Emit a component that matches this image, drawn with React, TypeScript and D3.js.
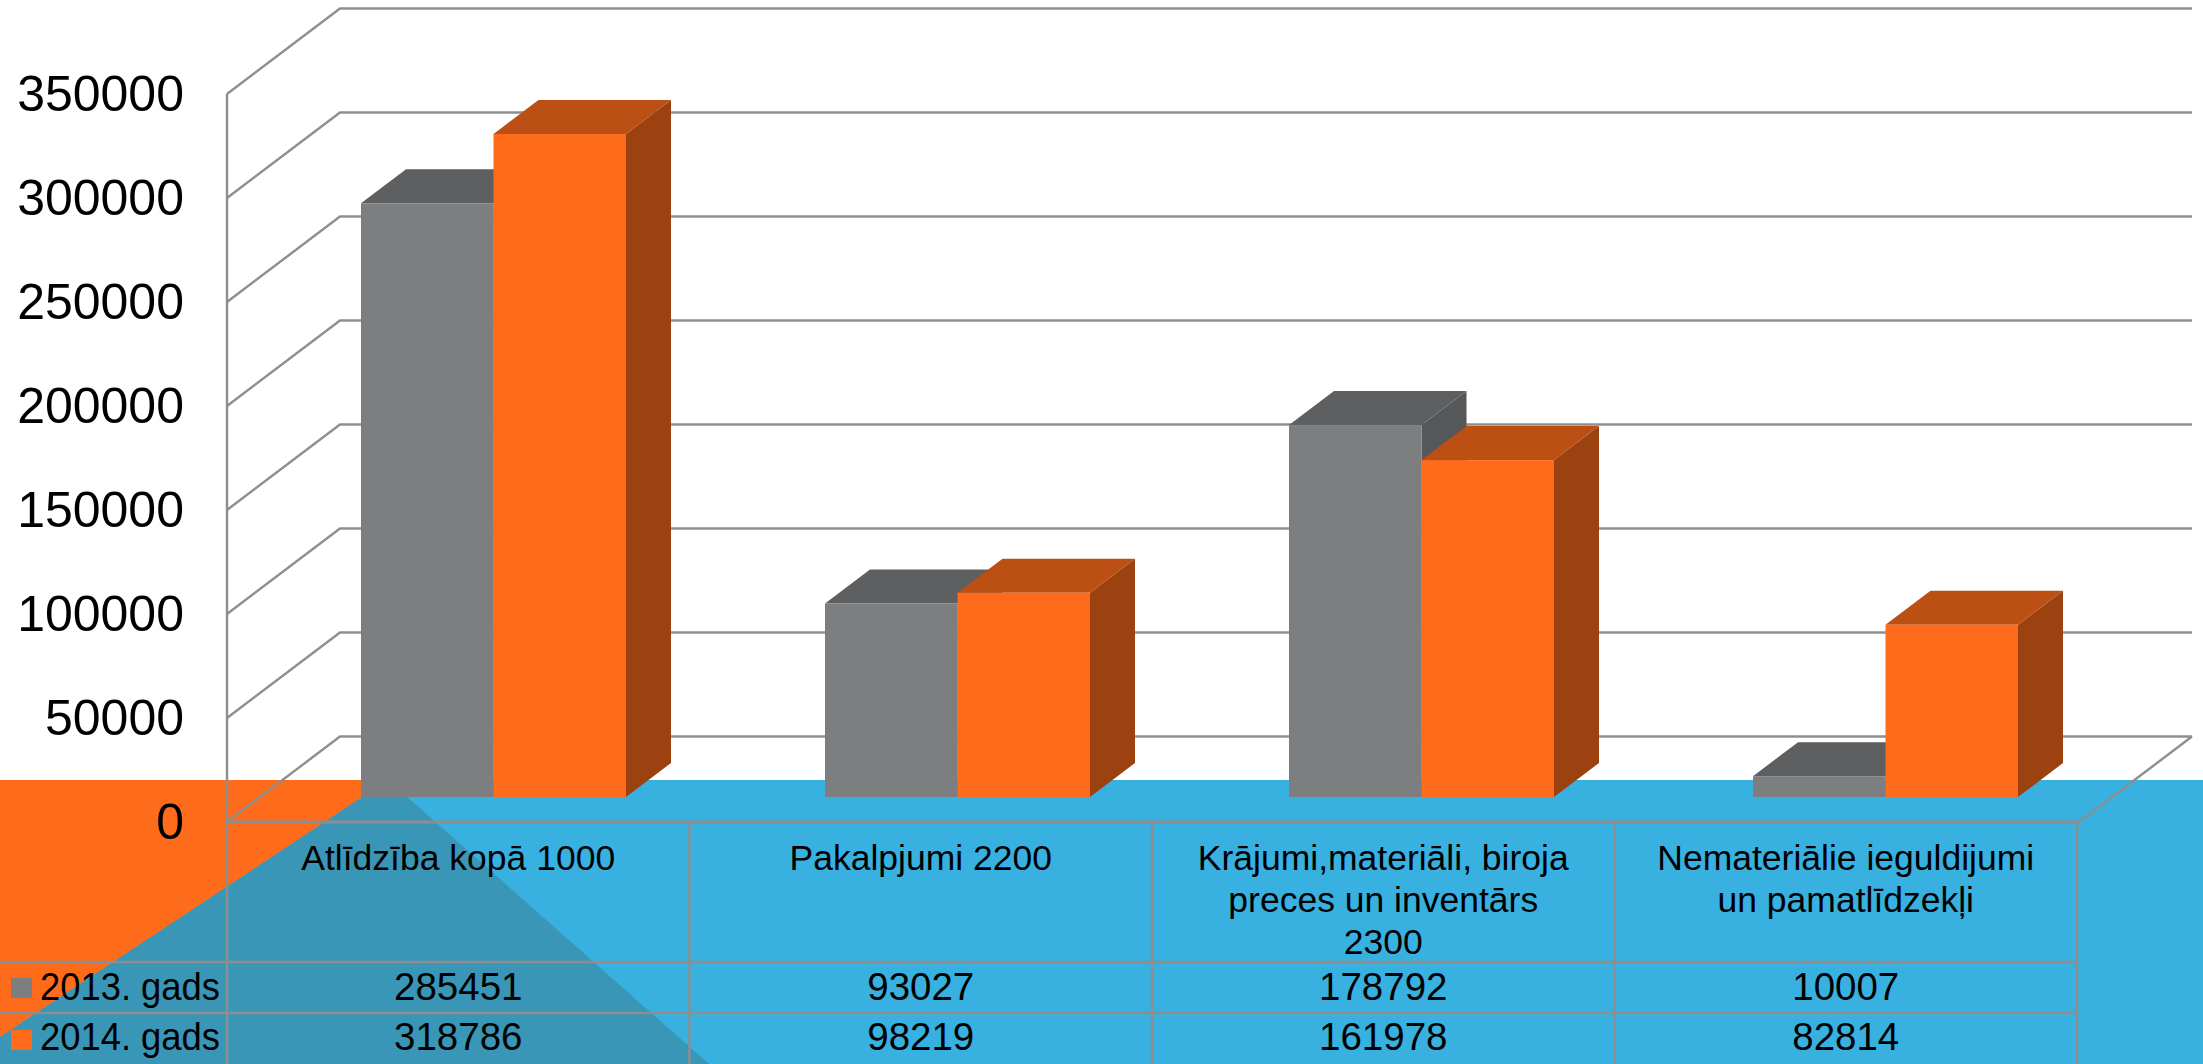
import React from "react";
import * as d3 from "d3";

const categories = [
  ["Atlīdzība kopā 1000"],
  ["Pakalpjumi 2200"],
  ["Krājumi,materiāli, biroja", "preces un inventārs", "2300"],
  ["Nemateriālie ieguldijumi", "un pamatlīdzekļi"],
];
const series2013 = [285451, 93027, 178792, 10007];
const series2014 = [318786, 98219, 161978, 82814];
const seriesNames = ["2013. gads", "2014. gads"];
const yTicks = [0, 50000, 100000, 150000, 200000, 250000, 300000, 350000];

const W = 2203, H = 1064;
const FONT = "'Liberation Sans', Arial, sans-serif";
const GRID = "#8e8e8e";
const BLUE = "#38b1e0", DARKBLUE = "#3a96b6", ORANGE = "#fd6b1b";
const colors = [
  { front: "#7d7e80", top: "#5e5f61", side: "#565759" },
  { front: "#fd6b1b", top: "#bb4f14", side: "#9c4210" },
];

const y = d3.scaleLinear().domain([0, 350000]).range([822, 94]);
const x = d3.scaleBand<number>().domain(d3.range(categories.length)).range([227, 2077]);
const barX = d3.scaleBand<number>().domain(d3.range(categories.length)).range([361, 361 + 4 * 464]);
const WALL = { dx: 113, dy: -85.5 };
const BAR = { dx: 45, dy: -34 };
const barBase = 797;
const barW = 132.5;
const rows = [962, 1013];
const pts = (p: number[][]) => d3.line()(p as [number, number][]) + "Z";

function Bar({ i, s, v }: { i: number; s: number; v: number }) {
  const x0 = barX(i)! + s * barW;
  const x1 = x0 + barW;
  const top = barBase - (y(0) - y(v));
  const c = colors[s];
  return (
    <g>
      <path d={pts([[x1, barBase], [x1 + BAR.dx, barBase + BAR.dy], [x1 + BAR.dx, top + BAR.dy], [x1, top]])} fill={c.side} />
      <path d={pts([[x0, top], [x0 + BAR.dx, top + BAR.dy], [x1 + BAR.dx, top + BAR.dy], [x1, top]])} fill={c.top} />
      <rect x={x0} y={top} width={barW} height={barBase - top} fill={c.front} />
    </g>
  );
}

export default function App() {
  const right = 2079;
  const tableRight = x.range()[1];
  return (
    <svg width={W} height={H} viewBox={`0 0 ${W} ${H}`} style={{ position: "absolute", left: 0, top: 0, display: "block", background: "#fff" }} fontFamily={FONT}>
      <rect x={0} y={780} width={W} height={H - 780} fill={BLUE} />
      <path d={pts([[0, 780], [388, 780], [0, 1037]])} fill={ORANGE} />
      <path d={pts([[388, 780], [709, 1064], [0, 1064], [0, 1037]])} fill={DARKBLUE} />

      {yTicks.map((t) => (
        <path key={t} d={`M${227},${y(t)}L${227 + WALL.dx},${y(t) + WALL.dy}L${2192},${y(t) + WALL.dy}`} stroke={GRID} strokeWidth={2.4} fill="none" />
      ))}
      <path d={`M${right},822L${2192},${822 + WALL.dy}`} stroke={GRID} strokeWidth={2.4} fill="none" />

      {categories.map((_, i) => (
        <g key={i}>
          <Bar i={i} s={0} v={series2013[i]} />
          <Bar i={i} s={1} v={series2014[i]} />
        </g>
      ))}

      <g stroke={GRID} fill="none">
        <path d={`M227,${y(350000)}V${H}`} strokeWidth={2.4} />
        <path d={`M227,822H${right}`} strokeWidth={3} />
        {x.domain().map((i) => (
          <path key={i} d={`M${x(i)! + x.step()},822V${H}`} strokeWidth={2.4} />
        ))}
        {rows.map((r) => (
          <path key={r} d={`M0,${r}H${tableRight}`} strokeWidth={2.6} />
        ))}
      </g>

      {yTicks.map((t) => (
        <text key={t} x={184} y={y(t) + 17} textAnchor="end" fontSize={50} fill="#000">{t}</text>
      ))}

      {categories.map((lines, i) => (
        <text key={i} x={x(i)! + x.step() / 2} textAnchor="middle" fontSize={35.5} fill="#000">
          {lines.map((l, j) => (
            <tspan key={j} x={x(i)! + x.step() / 2} y={870 + j * 42}>{l}</tspan>
          ))}
        </text>
      ))}

      {[series2013, series2014].map((vals, s) => (
        <g key={s}>
          <rect x={11} y={s === 0 ? 978 : 1030} width={21} height={20} fill={colors[s].front} />
          <text x={40} y={s === 0 ? 1000 : 1050} fontSize={38} textLength={180} lengthAdjust="spacingAndGlyphs" fill="#000">{seriesNames[s]}</text>
          {vals.map((v, i) => (
            <text key={i} x={x(i)! + x.step() / 2} y={s === 0 ? 1000 : 1050} textAnchor="middle" fontSize={38.5} fill="#000">{v}</text>
          ))}
        </g>
      ))}
    </svg>
  );
}
